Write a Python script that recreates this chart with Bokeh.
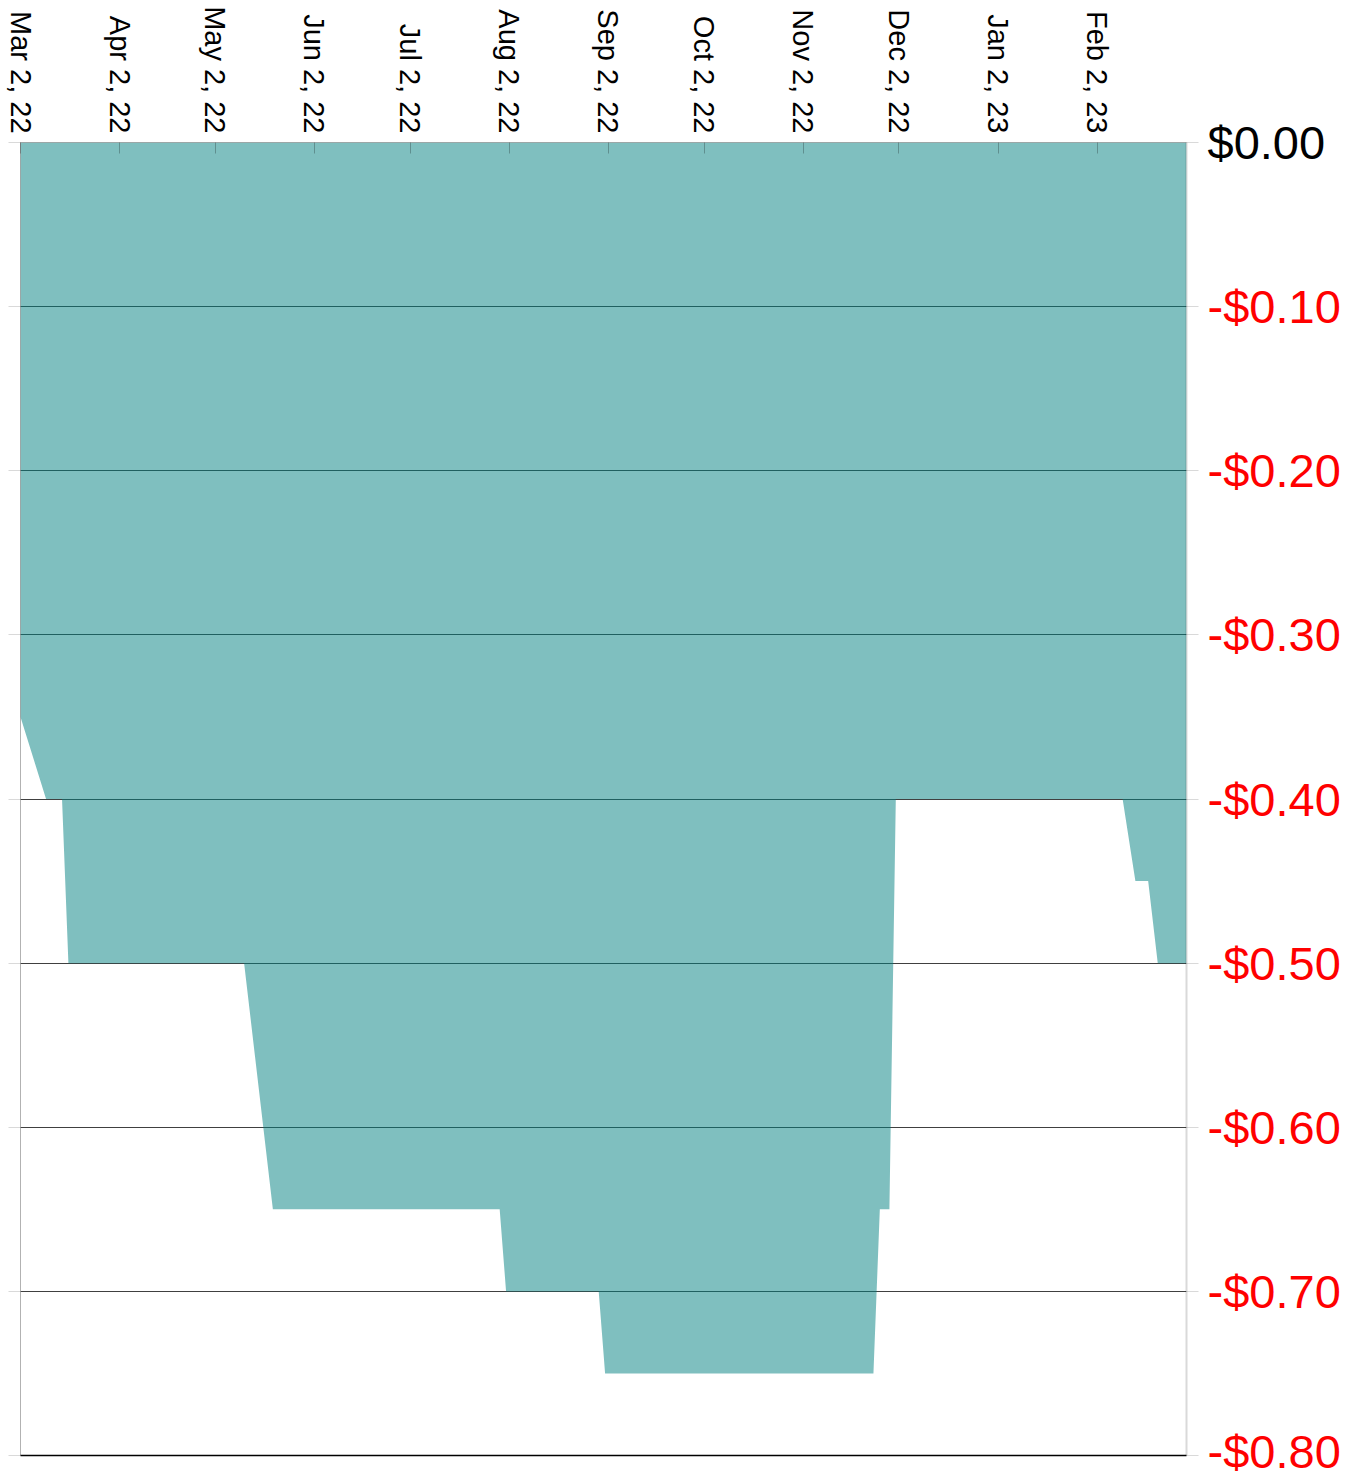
import math
import pandas as pd
from bokeh.plotting import figure
from bokeh.models import (Range1d, LinearAxis, FixedTicker, CustomJSTickFormatter,
                          ColumnDataSource, Grid)
from bokeh.embed import file_html
from bokeh.resources import INLINE

# ---- data ----
dates = ["2022-03-02", "2022-03-10", "2022-03-15", "2022-03-17", "2022-05-11",
         "2022-05-20", "2022-07-30", "2022-08-01", "2022-08-30", "2022-09-01",
         "2022-11-24", "2022-11-26", "2022-11-29", "2022-12-01", "2023-02-10",
         "2023-02-14", "2023-02-18", "2023-02-21", "2023-03-02"]
values = [-0.35, -0.40, -0.40, -0.50, -0.50,
          -0.65, -0.65, -0.70, -0.70, -0.75,
          -0.75, -0.65, -0.65, -0.40, -0.40,
          -0.45, -0.45, -0.50, -0.50]

x_tick_dates = ["2022-03-02", "2022-04-02", "2022-05-02", "2022-06-02", "2022-07-02",
                "2022-08-02", "2022-09-02", "2022-10-02", "2022-11-02", "2022-12-02",
                "2023-01-02", "2023-02-02"]
x_tick_labels = ["Mar 2, 22", "Apr 2, 22", "May 2, 22", "Jun 2, 22", "Jul 2, 22",
                 "Aug 2, 22", "Sep 2, 22", "Oct 2, 22", "Nov 2, 22", "Dec 2, 22",
                 "Jan 2, 23", "Feb 2, 23"]
y_ticks = [0, -0.1, -0.2, -0.3, -0.4, -0.5, -0.6, -0.7, -0.8]
y_tick_labels = ["$0.00", "-$0.10", "-$0.20", "-$0.30", "-$0.40",
                 "-$0.50", "-$0.60", "-$0.70", "-$0.80"]

x_start = "2022-03-02"
x_end = "2023-03-02"


def ms(d):
    return pd.Timestamp(d).value / 1e6


xs = [ms(d) for d in dates]
src = ColumnDataSource(dict(x=xs, y=values, zero=[0] * len(values)))

FONT = "Liberation Sans"

p = figure(width=1347, height=1477,
           x_axis_type=None, y_axis_type=None,
           x_range=Range1d(ms(x_start), ms(x_end)),
           y_range=Range1d(-0.8, 0),
           toolbar_location=None, output_backend="svg",
           min_border_left=20, min_border_right=161,
           min_border_top=142, min_border_bottom=22)
p.outline_line_color = None
p.background_fill_color = "white"
p.border_fill_color = "white"

yticker = FixedTicker(ticks=y_ticks)
grid = Grid(dimension=1, ticker=yticker, grid_line_color="black",
            grid_line_alpha=0.75, grid_line_width=1)
p.add_layout(grid)

p.varea(x="x", y1="zero", y2="y", source=src, fill_color="#008080", fill_alpha=0.5)

# top date axis
xlabel_map = {str(int(ms(d))): l for d, l in zip(x_tick_dates, x_tick_labels)}
xaxis = LinearAxis(
    ticker=FixedTicker(ticks=[ms(d) for d in x_tick_dates]),
    formatter=CustomJSTickFormatter(args=dict(labels=xlabel_map),
                                    code="return labels[String(Math.round(tick))] || '';"),
    major_label_orientation=-math.pi / 2,
    major_label_text_font=FONT, major_label_text_font_size="29px",
    major_label_text_color="black", major_label_standoff=9,
    major_tick_in=11, major_tick_out=0,
    major_tick_line_color="black", major_tick_line_alpha=0.25,
    minor_tick_line_color=None,
    axis_line_color="black", axis_line_alpha=0.3)
p.add_layout(xaxis, "above")

# bottom frame line
baxis = LinearAxis(
    ticker=FixedTicker(ticks=[]),
    major_label_text_font_size="0px", major_label_standoff=0,
    major_tick_line_color=None, minor_tick_line_color=None,
    axis_line_color="black", axis_line_width=1.5)
p.add_layout(baxis, "below")

# left axis (ticks only)
laxis = LinearAxis(
    ticker=yticker,
    formatter=CustomJSTickFormatter(code="return '';"),
    major_label_text_font_size="0px", major_label_standoff=0,
    major_tick_in=0, major_tick_out=12,
    major_tick_line_color="black", major_tick_line_alpha=0.15,
    minor_tick_line_color=None,
    axis_line_color="black", axis_line_alpha=0.3)
p.add_layout(laxis, "left")

# right axis (red negative labels)
raxis = LinearAxis(
    ticker=yticker,
    formatter=CustomJSTickFormatter(
        args=dict(labels=y_tick_labels),
        code="const i = Math.round(-tick * 10); return i == 0 ? '' : labels[i];"),
    major_label_text_font=FONT, major_label_text_font_size="47px",
    major_label_text_color="red", major_label_standoff=9,
    major_tick_in=0, major_tick_out=12,
    major_tick_line_color="black", major_tick_line_alpha=0.15,
    minor_tick_line_color=None,
    axis_line_color="black", axis_line_alpha=0.15, axis_line_width=2)
p.add_layout(raxis, "right")

# second right axis carrying the black "$0.00" label, pulled back beside the first
zaxis = LinearAxis(
    ticker=FixedTicker(ticks=[y_ticks[0]]),
    formatter=CustomJSTickFormatter(args=dict(labels=y_tick_labels),
                                    code="return labels[0];"),
    major_label_text_font=FONT, major_label_text_font_size="47px",
    major_label_text_color="black", major_label_standoff=-136,
    major_tick_in=0, major_tick_out=0,
    major_tick_line_color=None, minor_tick_line_color=None,
    axis_line_color=None)
p.add_layout(zaxis, "right")

open("out.html", "w").write(file_html(p, INLINE))
